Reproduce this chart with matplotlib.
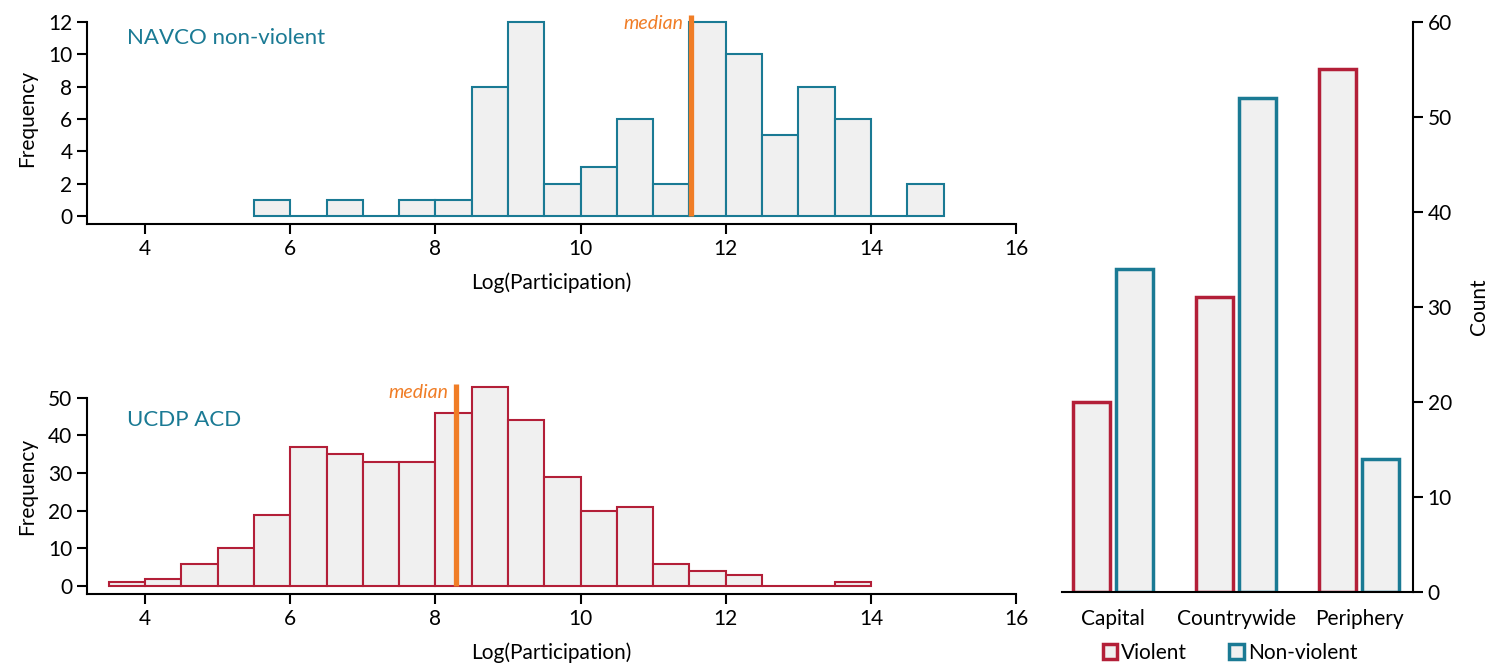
import numpy as np
import matplotlib
matplotlib.use("Agg")
import matplotlib.pyplot as plt
from matplotlib.patches import Patch

plt.rcParams['font.family'] = ['Lato', 'DejaVu Sans']

# histogram counts, bins of width 0.5
navco_start = 5.5
navco_counts = [1, 0, 1, 0, 1, 1, 8, 12, 2, 3, 6, 2, 12, 10, 5, 8, 6, 0, 2]
navco_median = 11.52

ucdp_start = 3.5
ucdp_counts = [1, 2, 6, 10, 19, 37, 35, 33, 33, 46, 53, 44, 29, 20, 21, 6, 4, 3, 0, 0, 1]
ucdp_median = 8.28

# bar chart
locations = ['Capital', 'Countrywide', 'Periphery']
violent = [20, 31, 55]
nonviolent = [34, 52, 14]

TEAL = '#1a7a94'
RED = '#b31f38'
ORANGE = '#f07d26'
FILL = '#f0f0f0'
BW = 0.5
FS = 15

fig = plt.figure(figsize=(14.98, 6.66), dpi=100)


def hist_panel(ax, start, counts, color, median, ymax, ytop, yticks, title, ytitle, ybottom):
    edges = start + BW * np.arange(len(counts))
    ax.bar(edges, counts, width=BW, align='edge', color=FILL,
           edgecolor=color, linewidth=1.5, clip_on=False, zorder=2)
    ax.plot([median, median], [0, ytop], color=ORANGE, lw=3.8, zorder=3,
            solid_capstyle='butt', clip_on=False)
    ax.text(median - 0.1, ytop, 'median', color=ORANGE, style='italic',
            ha='right', va='top', fontsize=14)
    ax.set_xlim(3.2, 16)
    ax.set_ylim(ybottom, ymax)
    ax.set_xticks([4, 6, 8, 10, 12, 14, 16])
    ax.set_yticks(yticks)
    for s in ['top', 'right']:
        ax.spines[s].set_visible(False)
    ax.spines['left'].set_bounds(ybottom, yticks[-1])
    ax.spines['left'].set_linewidth(1.5)
    ax.spines['bottom'].set_linewidth(1.5)
    ax.tick_params(direction='out', length=7, width=1.5, labelsize=FS)
    ax.set_xlabel('Log(Participation)', fontsize=FS, labelpad=10)
    ax.set_ylabel('Frequency', fontsize=FS, labelpad=8)
    ax.text(3.75, ytitle, title, color=TEAL, fontsize=16,
            va='center', ha='left')


ax1 = fig.add_axes([0.0581, 0.6637, 0.6202, 0.318])
hist_panel(ax1, navco_start, navco_counts, TEAL, navco_median, 12.6, 12.45,
           [0, 2, 4, 6, 8, 10, 12], 'NAVCO non-violent', 11.0, -0.5)

ax2 = fig.add_axes([0.0581, 0.1081, 0.6202, 0.3228])
hist_panel(ax2, ucdp_start, ucdp_counts, RED, ucdp_median, 55, 53.8,
           [0, 10, 20, 30, 40, 50], 'UCDP ACD', 44.0, -2.1)

# bar chart on the right
ax3 = fig.add_axes([0.709, 0.1111, 0.2343, 0.8559])
x = np.arange(len(locations))
off = 0.175
ax3.bar(x - off, violent, width=0.3, color=FILL, edgecolor=RED, linewidth=2.5)
ax3.bar(x + off, nonviolent, width=0.3, color=FILL, edgecolor=TEAL, linewidth=2.5)
ax3.set_xlim(-0.415, 2.44)
ax3.set_ylim(0, 60)
ax3.set_xticks(x)
ax3.set_xticklabels(locations)
ax3.yaxis.tick_right()
ax3.yaxis.set_label_position('right')
ax3.set_ylabel('Count', fontsize=FS, labelpad=12)
for s in ['top', 'left']:
    ax3.spines[s].set_visible(False)
ax3.spines['right'].set_linewidth(1.5)
ax3.spines['bottom'].set_linewidth(1.5)
ax3.tick_params(axis='y', direction='out', length=7, width=1.5, labelsize=FS)
ax3.tick_params(axis='x', length=0, labelsize=FS, pad=12)

handles = [Patch(facecolor=FILL, edgecolor=RED, linewidth=2.5, label='Violent'),
           Patch(facecolor=FILL, edgecolor=TEAL, linewidth=2.5, label='Non-violent')]
fig.legend(handles=handles, loc='center', bbox_to_anchor=(0.821, 0.02),
           ncol=2, frameon=False, fontsize=FS, handlelength=0.7, handleheight=0.7,
           handletextpad=0.2, columnspacing=2.0)

fig.savefig('out.png', dpi=100)
